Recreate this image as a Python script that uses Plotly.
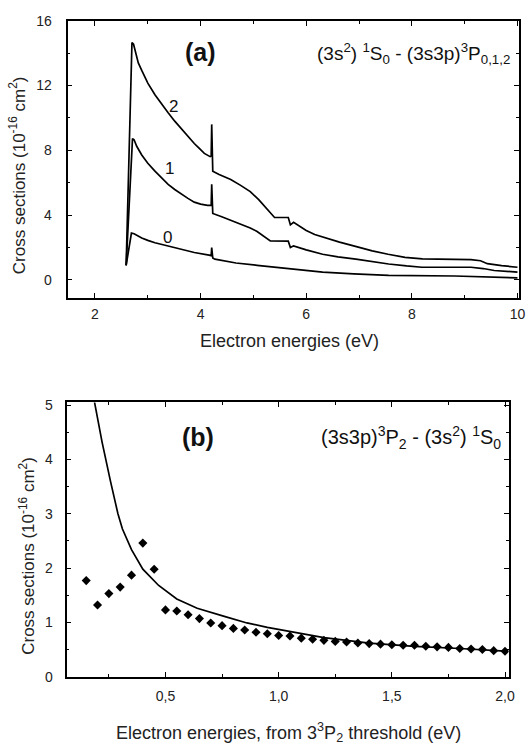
import plotly.graph_objects as go

# ---------- panel (a) data ----------
x_c2 = [2.59, 2.70, 2.73, 2.77, 2.82, 2.885, 3.0, 3.135, 3.26, 3.385, 3.51, 3.633, 3.76, 3.88, 3.98, 4.07, 4.18, 4.20, 4.21, 4.23,
        4.35, 4.57, 4.75, 4.94, 5.10, 5.25, 5.40, 5.66, 5.70, 5.76, 5.85, 6.0, 6.16, 6.4, 6.63, 6.95, 7.25, 7.55, 7.87, 8.2, 8.50, 9.12, 9.3, 9.43, 9.7, 10.0]
y_c2 = [0.9, 14.65, 14.55, 14.0, 13.4, 12.93, 12.15, 11.43, 10.85, 10.32, 9.8, 9.32, 8.85, 8.42, 8.1, 7.81, 7.61, 7.65, 9.6, 6.71,
        6.5, 6.2, 5.85, 5.45, 4.95, 4.4, 3.85, 3.85, 3.4, 3.55, 3.35, 3.05, 2.8, 2.55, 2.33, 2.05, 1.79, 1.58, 1.39, 1.3, 1.28, 1.25, 1.18, 1.0, 0.88, 0.78]

x_c1 = [2.59, 2.71, 2.74, 2.79, 2.885, 3.0, 3.135, 3.26, 3.385, 3.51, 3.633, 3.76, 3.88, 4.0, 4.13, 4.20, 4.21, 4.23,
        4.4, 4.57, 4.75, 4.94, 5.07, 5.2, 5.32, 5.66, 5.70, 5.76, 6.0, 6.31, 6.6, 6.94, 7.25, 7.56, 7.9, 8.19, 9.12, 9.35, 9.56, 10.0]
y_c1 = [0.9, 8.72, 8.65, 8.25, 7.71, 7.2, 6.71, 6.28, 5.9, 5.58, 5.3, 5.03, 4.8, 4.68, 4.6, 4.6, 5.9, 4.1,
        3.9, 3.69, 3.45, 3.2, 2.99, 2.7, 2.4, 2.39, 2.0, 2.1, 1.85, 1.58, 1.42, 1.28, 1.12, 0.98, 0.86, 0.78, 0.78, 0.7, 0.58, 0.48]

x_c0 = [2.59, 2.69, 2.74, 2.8, 2.885, 3.0, 3.135, 3.385, 3.633, 3.88, 4.16, 4.20, 4.21, 4.23, 4.27, 4.67, 5.07, 5.69, 6.31, 6.9, 7.56, 8.81, 10.0]
y_c0 = [0.9, 2.89, 2.85, 2.72, 2.59, 2.44, 2.29, 2.09, 1.89, 1.69, 1.53, 1.5, 2.0, 1.35, 1.28, 1.04, 0.9, 0.68, 0.48, 0.37, 0.28, 0.24, 0.12]

curve_labels = ["2", "1", "0"]
label_x = [3.48, 3.42, 3.37]
label_y = [10.7, 6.9, 2.6]

# ---------- panel (b) data ----------
x_theory = [0.18, 0.22, 0.257, 0.29, 0.31, 0.35, 0.40, 0.47, 0.55, 0.64, 0.76, 0.86, 0.95, 1.05, 1.2, 1.4, 1.6, 1.8, 2.0]
y_theory = [5.2, 4.32, 3.6, 3.0, 2.72, 2.34, 1.98, 1.68, 1.43, 1.26, 1.11, 0.99, 0.91, 0.83, 0.72, 0.62, 0.56, 0.52, 0.47]

x_pts = [0.15, 0.20, 0.25, 0.30, 0.35, 0.40, 0.45, 0.50, 0.55, 0.60, 0.65, 0.70, 0.75, 0.80, 0.85, 0.90, 0.95,
         1.00, 1.05, 1.10, 1.15, 1.20, 1.25, 1.30, 1.35, 1.40, 1.45, 1.50, 1.55, 1.60, 1.65, 1.70, 1.75,
         1.80, 1.85, 1.90, 1.95, 2.00]
y_pts = [1.77, 1.32, 1.53, 1.65, 1.87, 2.46, 1.98, 1.23, 1.21, 1.14, 1.07, 0.99, 0.94, 0.89, 0.86, 0.82, 0.79,
         0.76, 0.75, 0.71, 0.69, 0.67, 0.65, 0.64, 0.62, 0.61, 0.60, 0.59, 0.58, 0.58, 0.56, 0.55, 0.54,
         0.52, 0.51, 0.50, 0.48, 0.47]

FONT = "Liberation Sans"
line_style = dict(color="black", width=1.7)

fig = go.Figure()
for xs, ys in [(x_c2, y_c2), (x_c1, y_c1), (x_c0, y_c0)]:
    fig.add_trace(go.Scatter(x=xs, y=ys, mode="lines", line=line_style, xaxis="x", yaxis="y", showlegend=False))

fig.add_trace(go.Scatter(x=x_theory, y=y_theory, mode="lines", line=line_style, xaxis="x2", yaxis="y2", showlegend=False))
fig.add_trace(go.Scatter(x=x_pts, y=y_pts, mode="markers",
                         marker=dict(symbol="diamond", size=7, color="black"),
                         xaxis="x2", yaxis="y2", showlegend=False))

axis_common = dict(showline=True, linecolor="black", linewidth=1.8, mirror="allticks",
                   ticks="inside", ticklen=5, tickwidth=1.3, tickcolor="black",
                   showgrid=False, zeroline=False,
                   tickfont=dict(family=FONT, size=14, color="#222"))

fig.update_layout(
    width=532, height=752,
    margin=dict(l=0, r=0, t=0, b=0),
    paper_bgcolor="white", plot_bgcolor="white",
    separators=", ",
    font=dict(family=FONT, color="#222"),
    xaxis=dict(axis_common, domain=[0.1284, 0.9868], range=[1.48, 10.03], anchor="y",
               tickvals=[2, 4, 6, 8, 10], ticklabelstandoff=3,
               minor=dict(ticks="inside", ticklen=3, dtick=1, tick0=0, tickcolor="black", tickwidth=1.2)),
    yaxis=dict(axis_common, domain=[0.6064, 0.9827], range=[-1.1, 16.0], anchor="x",
               tickvals=[0, 4, 8, 12, 16], ticklabelstandoff=11,
               minor=dict(ticks="inside", ticklen=3, dtick=2, tick0=0, tickcolor="black", tickwidth=1.2)),
    xaxis2=dict(axis_common, domain=[0.1265, 0.967], range=[0.063, 2.016], anchor="y2",
                tickvals=[0.5, 1.0, 1.5, 2.0], tickformat=".1f", ticklabelstandoff=6,
                minor=dict(ticks="inside", ticklen=3, dtick=0.25, tick0=0, tickcolor="black", tickwidth=1.2)),
    yaxis2=dict(axis_common, domain=[0.0914, 0.4641], range=[0, 5.05], anchor="x2",
                tickvals=[0, 1, 2, 3, 4, 5], ticklabelstandoff=9,
                minor=dict(ticks="inside", ticklen=3, dtick=0.5, tick0=0, tickcolor="black", tickwidth=1.2)),
)

ann = []
for t, lx, ly in zip(curve_labels, label_x, label_y):
    ann.append(dict(text=t, x=lx, y=ly, xref="x", yref="y", showarrow=False,
                    xanchor="center", yanchor="middle",
                    font=dict(family=FONT, size=17, color="#111")))
ann.append(dict(text="<b>(a)</b>", x=4.0, y=14.1, xref="x", yref="y", showarrow=False,
                xanchor="center", yanchor="middle",
                font=dict(family=FONT, size=25, color="#111")))
ann.append(dict(text="(3s<sup>2</sup>) <sup>1</sup>S<sub>0</sub> - (3s3p)<sup>3</sup>P<sub>0,1,2</sub>",
                x=9.9, y=14.0, xref="x", yref="y", xanchor="right", yanchor="middle", showarrow=False,
                font=dict(family=FONT, size=19, color="#111")))
ann.append(dict(text="<b>(b)</b>", x=0.643, y=4.41, xref="x2", yref="y2", showarrow=False,
                xanchor="center", yanchor="middle",
                font=dict(family=FONT, size=25, color="#111")))
ann.append(dict(text="(3s3p)<sup>3</sup>P<sub>2</sub> - (3s<sup>2</sup>) <sup>1</sup>S<sub>0</sub>",
                x=1.99, y=4.41, xref="x2", yref="y2", xanchor="right", yanchor="middle", showarrow=False,
                font=dict(family=FONT, size=20, color="#111")))
# axis titles
ann.append(dict(text="Electron energies (eV)", x=293 / 532, y=1 - 340 / 752, xref="paper", yref="paper",
                xanchor="center", yanchor="middle",
                showarrow=False, font=dict(family=FONT, size=18, color="#222")))
ann.append(dict(text="Electron energies, from 3<sup>3</sup>P<sub>2</sub> threshold (eV)", x=292 / 532, y=1 - 740 / 752,
                xref="paper", yref="paper", xanchor="center", yanchor="middle",
                showarrow=False, font=dict(family=FONT, size=18, color="#222")))
ann.append(dict(text="Cross sections (10<sup>-16</sup> cm<sup>2</sup>)", x=18 / 532, y=1 - 171 / 752,
                xref="paper", yref="paper", textangle=-90, showarrow=False,
                xanchor="center", yanchor="middle",
                font=dict(family=FONT, size=17, color="#222")))
ann.append(dict(text="Cross sections (10<sup>-16</sup> cm<sup>2</sup>)", x=27 / 532, y=1 - 560 / 752,
                xref="paper", yref="paper", textangle=-90, showarrow=False,
                xanchor="center", yanchor="middle",
                font=dict(family=FONT, size=17, color="#222")))
fig.update_layout(annotations=ann)

fig.write_html("out.html")
